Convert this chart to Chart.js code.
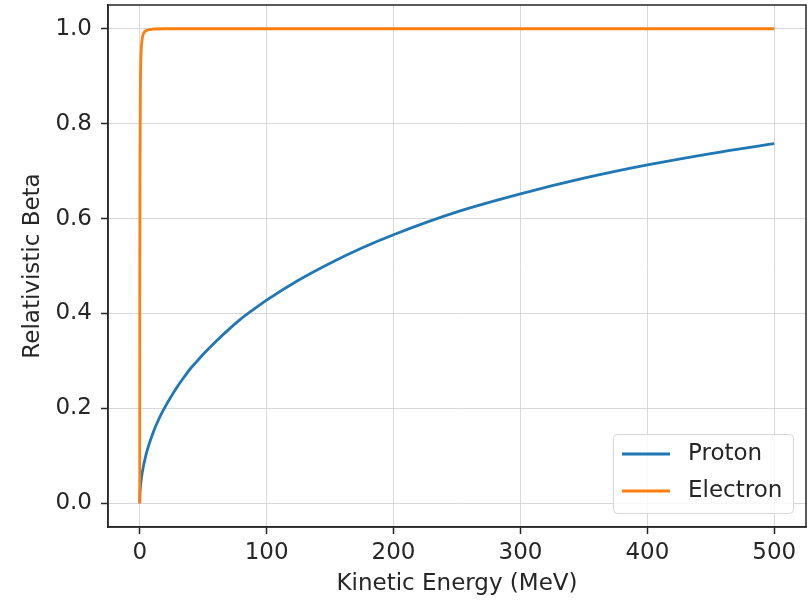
<!DOCTYPE html>
<html>
<head>
<meta charset="utf-8">
<script src="https://cdn.jsdelivr.net/npm/chart.js@4"></script>
<style>
html,body{margin:0;padding:0;background:#fff;}
#c{display:block;}
</style>
</head>
<body>
<canvas id="c" width="812" height="600"></canvas>
<script>
// ---- data ----
const protonEnergy = [0, 0.2, 0.5, 1, 2, 5, 10, 15, 20, 25, 30, 35, 40, 45, 50, 60, 70, 80, 90, 100, 125, 150, 175, 200, 250, 300, 350, 400, 450, 500];
const protonBeta   = [0, 0.021, 0.033, 0.046, 0.065, 0.103, 0.145, 0.177, 0.203, 0.226, 0.247, 0.266, 0.284, 0.299, 0.314, 0.341, 0.366, 0.389, 0.409, 0.428, 0.470, 0.506, 0.538, 0.566, 0.614, 0.652, 0.685, 0.713, 0.737, 0.758];
const electronEnergy = [0, 0.05, 0.1, 0.2, 0.5, 1, 2, 3, 5, 8, 10, 20, 50, 100, 200, 300, 400, 500];
const electronBeta   = [0, 0.413, 0.548, 0.695, 0.863, 0.941, 0.979, 0.990, 0.996, 0.998, 0.999, 1.0, 1.0, 1.0, 1.0, 1.0, 1.0, 1.0];
const xTickValues = [0, 100, 200, 300, 400, 500];
const yTickValues = [0.0, 0.2, 0.4, 0.6, 0.8, 1.0];
const seriesNames = ['Proton', 'Electron'];
const xLabel = 'Kinetic Energy (MeV)';
const yLabel = 'Relativistic Beta';

const FONT = 'DejaVu Sans';
const FS = 23;
const TXT = '#262626';
const pts = (xs, ys) => xs.map((x, i) => ({x: x, y: ys[i]}));

const framePlugin = {
  id: 'frame',
  afterDraw(chart) {
    const {ctx, chartArea: a} = chart;
    ctx.save();
    ctx.strokeStyle = '#262626';
    ctx.lineWidth = 1.5;
    ctx.strokeRect(a.left, a.top, a.right - a.left, a.bottom - a.top);
    ctx.restore();
  }
};

const legendPlugin = {
  id: 'insideLegend',
  afterDraw(chart) {
    const {ctx, chartArea: a} = chart;
    const w = 180, h = 79;
    const x0 = a.right - 13 - w, y0 = a.bottom - 14 - h;
    ctx.save();
    ctx.beginPath();
    if (ctx.roundRect) ctx.roundRect(x0 + 0.5, y0 + 0.5, w, h, 4); else ctx.rect(x0 + 0.5, y0 + 0.5, w, h);
    ctx.fillStyle = 'rgba(255,255,255,0.8)';
    ctx.fill();
    ctx.strokeStyle = '#d6d6d6';
    ctx.lineWidth = 1;
    ctx.stroke();
    ctx.font = FS + 'px "' + FONT + '"';
    ctx.textBaseline = 'middle';
    ctx.textAlign = 'left';
    chart.data.datasets.forEach((ds, i) => {
      const yy = y0 + 20 + i * 37;
      ctx.strokeStyle = ds.borderColor;
      ctx.lineWidth = 2.8;
      ctx.beginPath();
      ctx.moveTo(x0 + 9, yy);
      ctx.lineTo(x0 + 57, yy);
      ctx.stroke();
      ctx.fillStyle = TXT;
      ctx.fillText(ds.label, x0 + 75, yy);
    });
    ctx.restore();
  }
};

new Chart(document.getElementById('c'), {
  type: 'line',
  data: {
    datasets: [
      {label: seriesNames[0], data: pts(protonEnergy, protonBeta), borderColor: '#1f77b4', borderWidth: 2.8, pointRadius: 0, cubicInterpolationMode: 'monotone', order: 1, fill: false},
      {label: seriesNames[1], data: pts(electronEnergy, electronBeta), borderColor: '#ff7f0e', borderWidth: 2.8, pointRadius: 0, cubicInterpolationMode: 'monotone', order: 0, fill: false}
    ]
  },
  options: {
    responsive: false,
    animation: false,
    layout: {padding: {left: 0, top: 5, right: 6, bottom: 0}},
    plugins: {legend: {display: false}, tooltip: {enabled: false}},
    scales: {
      x: {
        type: 'linear', min: -25, max: 525,
        afterBuildTicks(s) { s.ticks = xTickValues.map(v => ({value: v})); },
        afterFit(s) { s.height = 73; s.paddingLeft = 0; s.paddingRight = 0; },
        grid: {color: '#d8d8d8', lineWidth: 1, drawTicks: true, tickLength: 7, tickColor: '#262626', tickWidth: 1.5},
        border: {display: true, color: '#262626', width: 1.5},
        ticks: {font: {family: FONT, size: FS}, color: TXT, padding: 5, maxRotation: 0, callback: v => String(v)},
        title: {display: true, text: xLabel, font: {family: FONT, size: FS}, color: TXT, padding: {top: 0, bottom: 2}}
      },
      y: {
        type: 'linear', min: -0.05, max: 1.05,
        afterBuildTicks(s) { s.ticks = yTickValues.map(v => ({value: v})); },
        afterFit(s) { s.width = 108; s.paddingTop = 0; s.paddingBottom = 0; },
        grid: {color: '#d8d8d8', lineWidth: 1, drawTicks: true, tickLength: 7, tickColor: '#262626', tickWidth: 1.5},
        border: {display: true, color: '#262626', width: 1.5},
        ticks: {font: {family: FONT, size: FS}, color: TXT, padding: 9, callback: v => Number(v).toFixed(1)},
        title: {display: true, text: yLabel, font: {family: FONT, size: FS}, color: TXT, padding: {top: 19, bottom: 0}}
      }
    }
  },
  plugins: [framePlugin, legendPlugin]
});
</script>
</body>
</html>
